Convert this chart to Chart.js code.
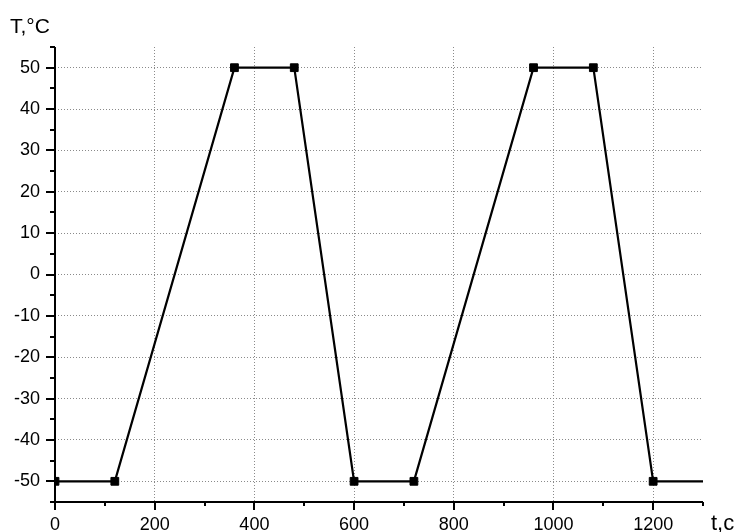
<!DOCTYPE html>
<html>
<head>
<meta charset="utf-8">
<script src="https://cdn.jsdelivr.net/npm/chart.js@4/dist/chart.umd.min.js"></script>
<style>
html,body{margin:0;padding:0;background:#fff;}
canvas{display:block;}
</style>
</head>
<body>
<canvas id="c" width="743" height="532"></canvas>
<script>
// Data
const times = [0, 120, 360, 480, 600, 720, 960, 1080, 1200, 1300];
const temps = [-50, -50, 50, 50, -50, -50, 50, 50, -50, -50];
const xAxisTitle = 't,c';
const yAxisTitle = 'T,\u00B0C';
const xRange = [0, 1300];
const yRange = [-55, 55];
const xMajorStep = 200, xMinorStep = 100;
const yMajorStep = 10, yMinorStep = 5;

const FONT = '"Liberation Sans", Arial, sans-serif';

const points = times.map((t, i) => ({x: t, y: temps[i]}));

const axesPlugin = {
  id: 'axesPlugin',
  afterDraw(chart) {
    const {ctx, chartArea: {left, right, top, bottom}, scales: {x, y}} = chart;
    ctx.save();
    ctx.strokeStyle = '#000';
    ctx.lineWidth = 2;
    ctx.lineCap = 'butt';
    ctx.beginPath();
    ctx.moveTo(left, top);
    ctx.lineTo(left, bottom);
    ctx.lineTo(right, bottom);
    ctx.stroke();
    y.ticks.forEach(t => {
      const py = Math.round(y.getPixelForValue(t.value));
      const len = (Math.abs(t.value) % yMajorStep === 0) ? 9 : 5;
      ctx.beginPath();
      ctx.moveTo(left - len, py);
      ctx.lineTo(left, py);
      ctx.stroke();
    });
    x.ticks.forEach(t => {
      const px = Math.round(x.getPixelForValue(t.value));
      const len = (t.value % xMajorStep === 0) ? 8 : 4;
      ctx.beginPath();
      ctx.moveTo(px, bottom);
      ctx.lineTo(px, bottom + len);
      ctx.stroke();
    });
    ctx.fillStyle = '#000';
    ctx.textAlign = 'left';
    ctx.textBaseline = 'alphabetic';
    ctx.font = '21px ' + FONT;
    ctx.fillText(yAxisTitle, 10, 33);
    ctx.font = '22px ' + FONT;
    ctx.fillText(xAxisTitle, 711, 530);
    ctx.restore();
  }
};

new Chart(document.getElementById('c'), {
  type: 'scatter',
  data: {
    datasets: [{
      data: points,
      showLine: true,
      borderColor: '#000',
      backgroundColor: '#000',
      borderWidth: 2.2,
      pointStyle: 'rect',
      pointRadius: ctx => ctx.dataIndex === times.length - 1 ? 0 : 5.5,
      pointBorderWidth: 1,
      pointBorderColor: '#000',
      pointBackgroundColor: '#000',
      tension: 0
    }]
  },
  options: {
    responsive: false,
    animation: false,
    layout: {padding: {top: 47, right: 40, bottom: 0, left: 0}},
    plugins: {legend: {display: false}, tooltip: {enabled: false}},
    scales: {
      x: {
        type: 'linear',
        min: xRange[0], max: xRange[1],
        afterFit(s) { s.height = 30; },
        border: {display: false, dash: [1, 2]},
        grid: {
          drawTicks: false,
          lineWidth: 1,
          color: c => (c.tick && c.tick.value % xMajorStep === 0 && c.tick.value > xRange[0]) ? '#8a8a8a' : 'rgba(0,0,0,0)'
        },
        ticks: {
          stepSize: xMinorStep,
          autoSkip: false,
          maxRotation: 0,
          padding: 12,
          color: '#000',
          font: {family: FONT, size: 18},
          callback: v => (v % xMajorStep === 0) ? String(v) : ''
        }
      },
      y: {
        type: 'linear',
        min: yRange[0], max: yRange[1],
        afterFit(s) { s.width = 55; },
        border: {display: false, dash: [1, 2]},
        grid: {
          drawTicks: false,
          lineWidth: 1,
          color: c => (c.tick && Math.abs(c.tick.value) % yMajorStep === 0) ? '#8a8a8a' : 'rgba(0,0,0,0)'
        },
        ticks: {
          stepSize: yMinorStep,
          autoSkip: false,
          padding: 15,
          color: '#000',
          font: {family: FONT, size: 18},
          callback: v => (Math.abs(v) % yMajorStep === 0) ? String(v) : ''
        }
      }
    }
  },
  plugins: [axesPlugin]
});
</script>
</body>
</html>
